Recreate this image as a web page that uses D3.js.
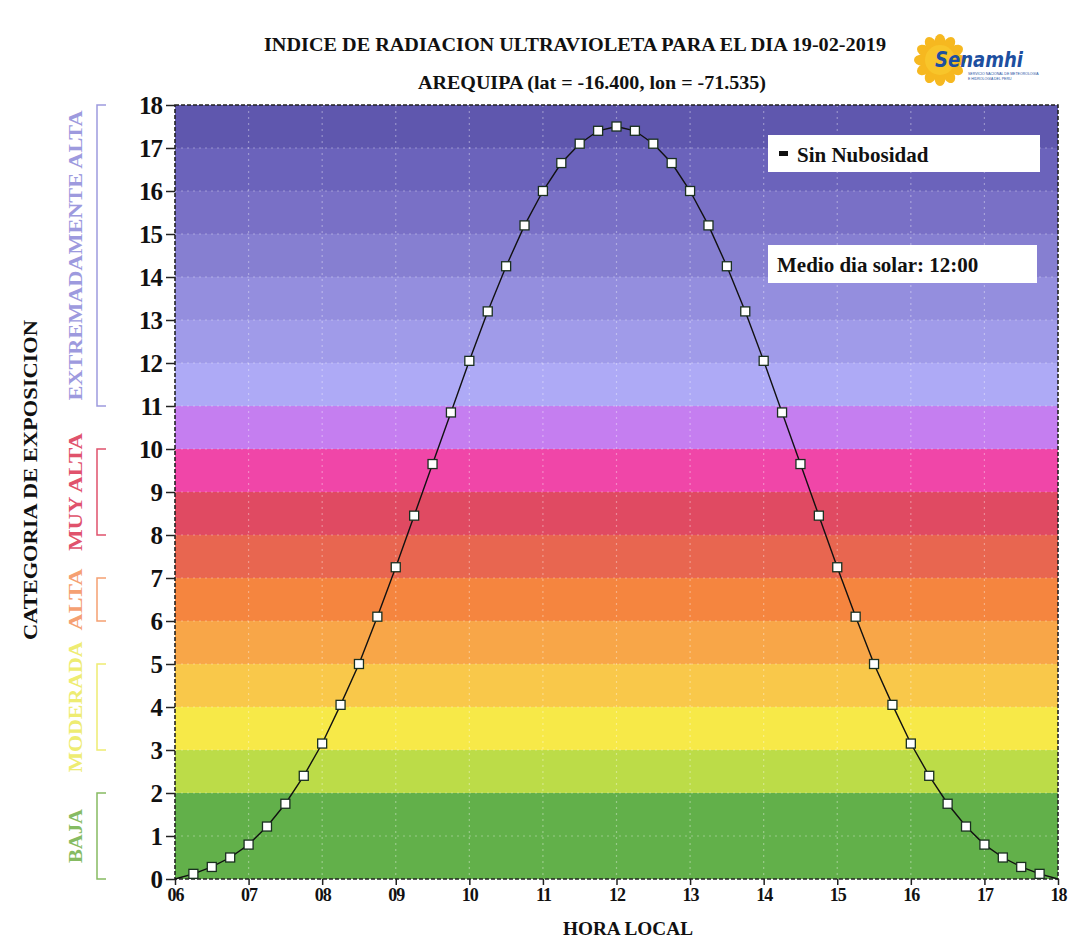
<!DOCTYPE html>
<html><head><meta charset="utf-8">
<script src="https://cdn.jsdelivr.net/npm/d3@7"></script>
<style>body{margin:0;background:#fff;}svg{display:block;}</style>
</head><body>
<svg id="c" width="1072" height="939"></svg>
<script>
// ---- data ----
const hours = [6,6.25,6.5,6.75,7,7.25,7.5,7.75,8,8.25,8.5,8.75,9,9.25,9.5,9.75,10,10.25,10.5,10.75,11,11.25,11.5,11.75,12,12.25,12.5,12.75,13,13.25,13.5,13.75,14,14.25,14.5,14.75,15,15.25,15.5,15.75,16,16.25,16.5,16.75,17,17.25,17.5,17.75,18];
const uvIndex = [0,0.12,0.28,0.5,0.8,1.22,1.75,2.4,3.15,4.05,5.0,6.1,7.25,8.45,9.65,10.85,12.05,13.2,14.25,15.2,16.0,16.65,17.1,17.4,17.5,17.4,17.1,16.65,16.0,15.2,14.25,13.2,12.05,10.85,9.65,8.45,7.25,6.1,5.0,4.05,3.15,2.4,1.75,1.22,0.8,0.5,0.28,0.12,0];
const xTickLabels = ["06","07","08","09","10","11","12","13","14","15","16","17","18"];
const yTicks = d3.range(0,19);
const bandLevels = [0,2,3,4,5,6,7,8,9,10,11,12,13,14,15,16,17,18];
const bandColors = ["#62b04a","#bcdc48","#f7e948","#f9c84a","#f8a648","#f5853f","#e86650","#e04a62","#f046a8","#c57ef0","#aeaaf6","#a09be9","#948ede","#867fd1","#7970c6","#6b63bb","#5f57ae"];
const categories = ["BAJA","MODERADA","ALTA","MUY ALTA","EXTREMADAMENTE ALTA"];
const catRanges = [[0,2],[3,5],[6,7],[8,10],[11,18]];
const catColors = ["#86bb62","#eeec72","#f5a072","#e0526c","#9d9ade"];
const title = "INDICE DE RADIACION ULTRAVIOLETA PARA EL DIA 19-02-2019";
const subtitle = "AREQUIPA (lat = -16.400, lon = -71.535)";
const legendText = "Sin Nubosidad";
const noonText = "Medio dia solar: 12:00";

// ---- layout ----
const svg = d3.select("#c");
const L = 175, R = 1058, T = 105, B = 879;
const x = d3.scaleLinear().domain([6,18]).range([L,R]);
const y = d3.scaleLinear().domain([0,18]).range([B,T]);
const serif = "'Liberation Serif','DejaVu Serif',serif";

// bands
for (let i=0;i<bandColors.length;i++){
  svg.append("rect").attr("x",L).attr("width",R-L)
    .attr("y",y(bandLevels[i+1])).attr("height",y(bandLevels[i])-y(bandLevels[i+1]))
    .attr("fill",bandColors[i]);
}
// grid
const g = svg.append("g").attr("stroke","#ffffff").attr("stroke-opacity",0.35).attr("stroke-dasharray","2,4").attr("stroke-width",1.2);
d3.range(7,18).forEach(h=>g.append("line").attr("x1",x(h)).attr("x2",x(h)).attr("y1",T).attr("y2",B));
d3.range(1,18).forEach(v=>g.append("line").attr("x1",L).attr("x2",R).attr("y1",y(v)).attr("y2",y(v)));

// frame dashed
svg.append("rect").attr("x",L).attr("y",T).attr("width",R-L).attr("height",B-T)
  .attr("fill","none").attr("stroke","#222").attr("stroke-width",1.6).attr("stroke-dasharray","4,2");

// axes
const yAxis = d3.axisLeft(y).tickValues(yTicks).tickSize(9).tickPadding(4).tickFormat(d3.format("d"));
const ya = svg.append("g").attr("transform",`translate(${L},0)`).call(yAxis);
ya.select(".domain").remove();
ya.selectAll("line").attr("stroke","#222").attr("stroke-width",1.5);
ya.selectAll("text").attr("font-family",serif).attr("font-weight","bold").attr("font-size",25).attr("fill","#111")
  .attr("letter-spacing",-1).attr("dy","0.34em");

const xAxis = d3.axisBottom(x).tickValues(d3.range(6,19)).tickSize(6).tickPadding(3).tickFormat((d,i)=>xTickLabels[i]);
const xa = svg.append("g").attr("transform",`translate(0,${B})`).call(xAxis);
xa.select(".domain").remove();
xa.selectAll("line").attr("stroke","#222").attr("stroke-width",1.5);
xa.selectAll("text").attr("font-family",serif).attr("font-weight","bold").attr("font-size",18).attr("fill","#111")
  .attr("letter-spacing",-1);

// line
const pts = hours.map((h,i)=>[h,uvIndex[i]]);
svg.append("path").datum(pts).attr("fill","none").attr("stroke","#111").attr("stroke-width",1.4)
  .attr("d",d3.line().x(d=>x(d[0])).y(d=>y(d[1])));
svg.append("g").selectAll("rect").data(pts.filter(d=>d[1]>0)).join("rect")
  .attr("x",d=>x(d[0])-4.5).attr("y",d=>y(d[1])-4.5).attr("width",9).attr("height",9)
  .attr("fill","#fff").attr("stroke","#1a3020").attr("stroke-width",1.3);

// legend boxes
svg.append("rect").attr("x",768).attr("y",135).attr("width",272).attr("height",37).attr("fill","#fff");
svg.append("rect").attr("x",779).attr("y",151).attr("width",9).attr("height",5).attr("fill","#111");
svg.append("text").attr("x",797).attr("y",162).text(legendText)
  .attr("font-family",serif).attr("font-weight","bold").attr("font-size",21).attr("fill","#111");
svg.append("rect").attr("x",768).attr("y",245).attr("width",269).attr("height",38).attr("fill","#fff");
svg.append("text").attr("x",777).attr("y",272).text(noonText)
  .attr("font-family",serif).attr("font-weight","bold").attr("font-size",21).attr("fill","#111");

// titles
svg.append("text").attr("x",575).attr("y",51).attr("text-anchor","middle").text(title)
  .attr("font-family",serif).attr("font-weight","bold").attr("font-size",19).attr("fill","#111")
  .attr("textLength",622).attr("lengthAdjust","spacingAndGlyphs");
svg.append("text").attr("x",592).attr("y",89).attr("text-anchor","middle").text(subtitle)
  .attr("font-family",serif).attr("font-weight","bold").attr("font-size",19).attr("fill","#111")
  .attr("textLength",348).attr("lengthAdjust","spacingAndGlyphs");
svg.append("text").attr("x",628).attr("y",935).attr("text-anchor","middle").text("HORA LOCAL")
  .attr("font-family",serif).attr("font-weight","bold").attr("font-size",18).attr("fill","#111")
  .attr("textLength",130).attr("lengthAdjust","spacingAndGlyphs");
svg.append("text").attr("transform","translate(37,480) rotate(-90)").attr("text-anchor","middle").text("CATEGORIA DE EXPOSICION")
  .attr("font-family",serif).attr("font-weight","bold").attr("font-size",19).attr("fill","#111")
  .attr("textLength",320).attr("lengthAdjust","spacingAndGlyphs");

// categories
const catLen = [54,131,62,118,290];
categories.forEach((c,i)=>{
  const [a,b] = catRanges[i];
  const y0 = y(a), y1 = y(b);
  svg.append("path").attr("d",`M106,${y1}H97V${y0}H106`).attr("fill","none")
    .attr("stroke",catColors[i]).attr("stroke-width",1.5);
  const cy = (y0+y1)/2;
  svg.append("text").attr("transform",`translate(82,${cy}) rotate(-90)`).attr("text-anchor","middle")
    .text(c).attr("font-family",serif).attr("font-weight","bold").attr("font-size",19)
    .attr("fill",catColors[i]).attr("textLength",catLen[i]).attr("lengthAdjust","spacingAndGlyphs");
});

// logo
const logo = svg.append("g").attr("transform","translate(940,60)");
d3.range(12).forEach(k=>{
  logo.append("ellipse").attr("cx",0).attr("cy",-18).attr("rx",5.5).attr("ry",8)
    .attr("fill","#f6b820").attr("transform",`rotate(${k*30})`);
});
logo.append("circle").attr("r",15).attr("fill","#f8c52a");
logo.append("text").attr("x",-5).attr("y",7).text("Senamhi").attr("font-family","'DejaVu Sans',sans-serif")
  .attr("font-style","italic").attr("font-weight","bold").attr("font-size",21).attr("fill","#1d4fa0")
  .attr("textLength",88).attr("lengthAdjust","spacingAndGlyphs");
logo.append("text").attr("x",28).attr("y",15).text("SERVICIO NACIONAL DE METEOROLOGIA").attr("font-family","sans-serif")
  .attr("font-size",3.5).attr("fill","#1d4fa0");
logo.append("text").attr("x",28).attr("y",20).text("E HIDROLOGIA DEL PERU").attr("font-family","sans-serif")
  .attr("font-size",3.5).attr("fill","#1d4fa0");
</script>
</body></html>
